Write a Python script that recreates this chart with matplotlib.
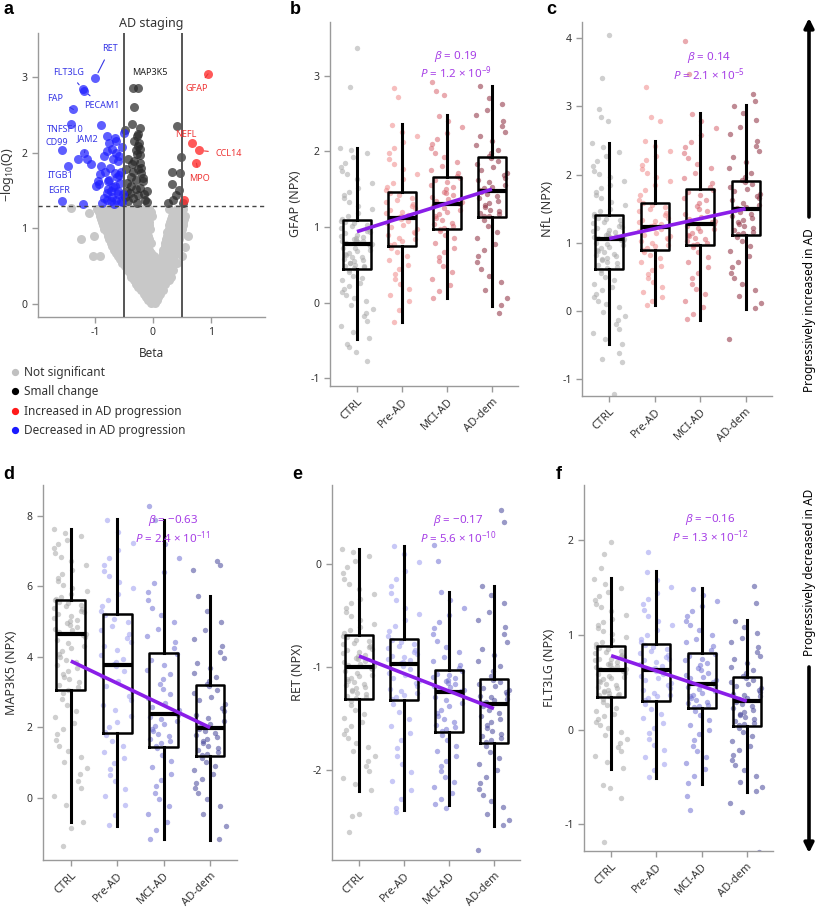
import matplotlib
matplotlib.use("Agg")
import matplotlib.pyplot as plt
import numpy as np
from matplotlib.lines import Line2D
from matplotlib.patches import FancyArrowPatch

plt.rcParams["font.family"] = ["Noto Sans", "DejaVu Sans"]
plt.rcParams["axes.unicode_minus"] = False
plt.rcParams["mathtext.fontset"] = "custom"
plt.rcParams["mathtext.rm"] = "Noto Sans"
plt.rcParams["mathtext.it"] = "Noto Sans:italic"

STAGES = ["CTRL", "Pre-AD", "MCI-AD", "AD-dem"]

# --- Panel a: volcano (beta, -log10 Q) ---------------------------------------
GREY_BETA = [
    -0.97, -0.86, -0.76, -0.66, -0.56, -0.47, -0.37, -0.27, -0.17, -0.07, 0.28, 0.41, 0.52,
    -0.93, -0.82, -0.72, -0.62, -0.52, -0.42, -0.32, -0.22, -0.12, -0.03, 0.36, 0.48,
    -0.92, -0.81, -0.71, -0.61, -0.51, -0.41, -0.31, -0.21, -0.11, -0.02, 0.33, 0.46, 0.56,
    -0.90, -0.79, -0.69, -0.59, -0.49, -0.39, -0.29, -0.19, -0.09, 0.31, 0.44, 0.54,
    -0.88, -0.77, -0.67, -0.57, -0.47, -0.37, -0.27, -0.17, -0.07, 0.30, 0.42, 0.52,
    -0.86, -0.75, -0.65, -0.55, -0.45, -0.35, -0.25, -0.15, -0.06, 0.28, 0.40, 0.51,
    -0.84, -0.74, -0.64, -0.54, -0.44, -0.34, -0.24, -0.14, -0.05, 0.27, 0.38, 0.50,
    -0.80, -0.70, -0.60, -0.50, -0.40, -0.30, -0.20, -0.10, 0.25, 0.37, 0.49,
    -1.01, -0.78, -0.68, -0.58, -0.48, -0.38, -0.28, -0.18, -0.08, 0.24, 0.36, 0.47, 0.60,
    -0.76, -0.66, -0.56, -0.46, -0.36, -0.26, -0.16, -0.06, 0.22, 0.34, 0.45,
    -0.73, -0.63, -0.53, -0.43, -0.33, -0.23, -0.13, -0.04, 0.21, 0.32, 0.44,
    -0.70, -0.60, -0.50, -0.40, -0.30, -0.20, -0.10, 0.20, 0.31, 0.43,
    -0.67, -0.57, -0.47, -0.37, -0.27, -0.17, -0.07, 0.18, 0.29, 0.41,
    -0.63, -0.53, -0.43, -0.33, -0.23, -0.13, -0.04, 0.17, 0.28, 0.39,
    -1.03, -0.92, -0.60, -0.50, -0.40, -0.30, -0.20, -0.10, 0.01, 0.15, 0.26, 0.37, 0.50,
    -0.56, -0.46, -0.36, -0.26, -0.16, -0.06, 0.05, 0.13, 0.23, 0.34,
    -0.53, -0.43, -0.33, -0.23, -0.13, -0.03, 0.08, 0.18, 0.28, 0.42,
    -0.48, -0.38, -0.28, -0.18, -0.08, 0.03, 0.13, 0.23, 0.33,
    -0.45, -0.35, -0.25, -0.15, -0.05, 0.05, 0.15, 0.25, 0.35,
    -0.40, -0.30, -0.20, -0.10, 0.00, 0.10, 0.20, 0.30,
    -0.37, -0.27, -0.17, -0.07, 0.03, 0.13, 0.23, 0.31,
    -0.32, -0.22, -0.12, -0.02, 0.08, 0.18, 0.27,
    -0.29, -0.19, -0.09, 0.01, 0.11, 0.21,
    -0.25, -0.15, -0.05, 0.05, 0.15,
    -0.21, -0.11, -0.01, 0.09, 0.17,
    -0.16, -0.06, 0.04, 0.12,
    -0.12, -0.02, 0.08,
    -0.08, 0.01, 0.07,
    -0.03, 0.04,
    -1.41, -1.24, -1.10, 0.55,
]
GREY_Q = (
    [1.26] * 13 + [1.22] * 12 + [1.17] * 13 + [1.13] * 12 + [1.08] * 12 + [1.04] * 12
    + [0.99] * 12 + [0.95] * 11 + [0.90] * 13 + [0.86] * 11 + [0.81] * 11 + [0.77] * 10
    + [0.72] * 10 + [0.68] * 10 + [0.63] * 13 + [0.59] * 10 + [0.54] * 10 + [0.50] * 9
    + [0.45] * 9 + [0.41] * 8 + [0.36] * 8 + [0.32] * 7 + [0.27] * 6 + [0.23] * 5
    + [0.18] * 5 + [0.14] * 4 + [0.09] * 3 + [0.06] * 3 + [0.02] * 2
    + [1.27, 0.86, 1.20, 0.76]
)

BLUE_BETA = [-0.99, -1.21, -1.19, -1.37, -1.41, -0.89, -1.57, -1.18, -1.29, -1.14,
             -1.47, -1.07, -1.57, -1.20, -0.79, -0.66, -0.63, -0.75, -0.50, -0.80,
             -0.64, -0.69, -0.60, -0.89, -0.74, -0.66, -0.95, -0.93, -0.98, -0.75,
             -0.66, -0.57, -0.79, -0.70, -0.60, -0.80, -0.72, -0.63, -0.55, -0.85,
             -0.58, -0.52, -0.77, -0.55, -0.62, -0.68, -0.72, -0.78, -0.83, -0.58,
             -0.70, -0.53, -0.85, -0.60, -0.67, -0.88, -0.92, -0.54]
BLUE_Q = [2.99, 2.84, 2.82, 2.57, 2.38, 2.37, 2.03, 2.00, 1.91, 1.92,
          1.82, 1.85, 1.36, 1.32, 2.22, 2.19, 2.15, 2.13, 2.26, 2.02,
          2.00, 1.92, 1.89, 1.82, 1.80, 1.73, 1.62, 1.59, 1.56, 1.64,
          1.56, 1.60, 1.47, 1.42, 1.49, 1.38, 1.36, 1.38, 1.36, 1.40,
          1.70, 1.45, 1.52, 1.75, 1.68, 1.55, 1.50, 1.62, 1.75, 1.95,
          2.05, 2.08, 1.95, 1.45, 1.32, 1.33, 1.72, 1.35]

BLACK_BETA = [-0.34, -0.26, -0.32, -0.36, -0.22, -0.48, -0.27, -0.24, -0.26, -0.23,
              -0.43, -0.32, -0.23, -0.46, -0.34, -0.20, -0.29, -0.17, -0.37, -0.23,
              -0.11, -0.34, -0.14, -0.43, -0.26, -0.30, -0.45, -0.20,
              -0.28, -0.25, -0.38, -0.18, -0.30, -0.40, -0.27, -0.15, -0.22, -0.33,
              -0.44, -0.10, -0.48, -0.25, -0.36,
              0.42, 0.49, 0.32, 0.46, 0.33, 0.40, 0.45, 0.26, 0.34, 0.51]
BLACK_Q = [2.86, 2.86, 2.60, 2.38, 2.33, 2.30, 2.22, 2.13, 2.09, 1.97,
           1.91, 1.89, 1.86, 1.78, 1.75, 1.73, 1.64, 1.62, 1.56, 1.53,
           1.49, 1.40, 1.38, 1.36, 1.44, 2.03, 1.50, 1.80,
           1.98, 1.78, 1.68, 1.67, 1.52, 1.47, 1.34, 1.45, 2.05, 2.15,
           1.60, 1.35, 1.42, 2.25, 1.85,
           2.35, 1.94, 1.74, 1.73, 1.58, 1.44, 1.51, 1.33, 1.38, 1.33]

RED_BETA = [0.95, 0.68, 0.79, 0.75, 0.53]
RED_Q = [3.04, 2.13, 2.03, 1.86, 1.38]

LABEL_NAMES = ["RET", "FLT3LG", "PECAM1", "FAP", "TNFSF10", "CD99", "JAM2",
               "ITGB1", "EGFR", "MAP3K5", "GFAP", "NEFL", "CCL14", "MPO"]
LABEL_BETA = [-0.99, -1.21, -1.19, -1.37, -1.41, -1.57, -1.18,
              -1.47, -1.57, -0.30, 0.95, 0.68, 0.79, 0.75]
LABEL_Q = [2.99, 2.84, 2.82, 2.57, 2.38, 2.03, 2.00,
           1.82, 1.36, 2.86, 3.04, 2.13, 2.03, 1.86]

# --- Panels b-f: box statistics, points and trend ---------------------------
GFAP_Q1 = [0.45, 0.75, 0.97, 1.13]
GFAP_MED = [0.78, 1.12, 1.31, 1.48]
GFAP_Q3 = [1.09, 1.46, 1.66, 1.92]
GFAP_LO = [-0.48, -0.26, 0.06, -0.04]
GFAP_HI = [2.05, 2.36, 2.48, 2.87]
GFAP_TREND = [0.94, 1.50]
GFAP_CTRL = [2.04, 2.02, 1.98, 1.92, 1.85, 1.80, 1.74, 1.70, 1.64, 1.58, 1.52, 1.47, 1.42,
             1.38, 1.33, 1.28, 1.24, 1.19, 1.15, 1.11,
             1.08, 1.07, 1.05, 1.03, 1.01, 0.99, 0.97, 0.95, 0.93, 0.92, 0.90, 0.88, 0.87,
             0.85, 0.84, 0.83, 0.82, 0.81, 0.80, 0.79, 0.78,
             0.77, 0.75, 0.73, 0.72, 0.70, 0.68, 0.66, 0.65, 0.63, 0.61, 0.60, 0.58, 0.56,
             0.55, 0.53, 0.52, 0.50, 0.49, 0.48, 0.47, 0.46,
             0.43, 0.40, 0.36, 0.33, 0.30, 0.26, 0.22, 0.18, 0.14, 0.10, 0.06, 0.02, -0.03,
             -0.08, -0.13, -0.18, -0.24, -0.31, -0.39, -0.47,
             3.37, 2.85, -0.55, -0.58, -0.65, -0.77]
GFAP_PRE = [2.35, 2.25, 2.20, 2.12, 2.05, 1.98, 1.90, 1.84, 1.77, 1.70, 1.64, 1.58, 1.53, 1.49,
            1.45, 1.42, 1.39, 1.36, 1.33, 1.31, 1.28, 1.25, 1.22, 1.20, 1.18, 1.16, 1.14, 1.13,
            1.11, 1.08, 1.05, 1.03, 1.00, 0.97, 0.94, 0.92, 0.89, 0.86, 0.84, 0.81, 0.78, 0.76,
            0.72, 0.67, 0.62, 0.56, 0.50, 0.44, 0.38, 0.32, 0.25, 0.18, 0.10, 0.02, -0.10,
            -0.25, 2.84, 2.72]
GFAP_MCI = [2.47, 2.40, 2.32, 2.24, 2.16, 2.10, 2.04, 1.98, 1.92, 1.86, 1.81, 1.76, 1.72, 1.68,
            1.65, 1.62, 1.59, 1.56, 1.53, 1.50, 1.47, 1.45, 1.42, 1.40, 1.37, 1.35, 1.33, 1.32,
            1.30, 1.28, 1.25, 1.23, 1.20, 1.17, 1.15, 1.12, 1.09, 1.06, 1.04, 1.01, 0.99, 0.98,
            0.95, 0.90, 0.85, 0.79, 0.73, 0.67, 0.61, 0.55, 0.48, 0.40, 0.32, 0.24, 0.15, 0.06,
            2.92, 2.80, 2.74]
GFAP_DEM = [2.86, 2.70, 2.62, 2.55, 2.48, 2.40, 2.33, 2.26, 2.20, 2.14, 2.08, 2.02, 1.98, 1.94,
            1.91, 1.87, 1.84, 1.80, 1.76, 1.72, 1.69, 1.65, 1.62, 1.59, 1.56, 1.53, 1.51, 1.49,
            1.47, 1.44, 1.41, 1.38, 1.35, 1.32, 1.29, 1.26, 1.23, 1.21, 1.19, 1.17, 1.15, 1.14,
            1.10, 1.02, 0.94, 0.86, 0.78, 0.70, 0.62, 0.54, 0.45, 0.36, 0.27, 0.17, 0.06, -0.03,
            -0.13]

NFL_Q1 = [0.62, 0.89, 0.96, 1.12]
NFL_MED = [1.05, 1.23, 1.28, 1.49]
NFL_Q3 = [1.40, 1.59, 1.79, 1.90]
NFL_LO = [-0.49, 0.08, -0.13, 0.03]
NFL_HI = [2.47, 2.50, 2.90, 3.02]
NFL_TREND = [1.06, 1.50]
NFL_CTRL = [2.46, 2.40, 2.33, 2.27, 2.20, 2.13, 2.06, 2.01, 1.96, 1.90, 1.85, 1.80, 1.75,
            1.70, 1.65, 1.60, 1.55, 1.50, 1.46, 1.42,
            1.39, 1.37, 1.35, 1.33, 1.31, 1.29, 1.27, 1.25, 1.23, 1.21, 1.19, 1.17, 1.16,
            1.14, 1.12, 1.11, 1.10, 1.09, 1.08, 1.07, 1.06,
            1.04, 1.02, 1.00, 0.98, 0.96, 0.94, 0.92, 0.90, 0.88, 0.86, 0.84, 0.82, 0.80,
            0.78, 0.76, 0.74, 0.72, 0.70, 0.67, 0.65, 0.63,
            0.60, 0.55, 0.50, 0.45, 0.40, 0.35, 0.30, 0.25, 0.20, 0.15, 0.10, 0.05, -0.01,
            -0.07, -0.13, -0.19, -0.26, -0.33, -0.41, -0.48,
            4.05, 3.42, 2.96, 2.85, 2.78, -0.62, -0.70, -0.75, -1.22]
NFL_PRE = [2.49, 2.42, 2.35, 2.28, 2.21, 2.14, 2.08, 2.02, 1.96, 1.90, 1.84, 1.77, 1.70, 1.63,
           1.58, 1.55, 1.52, 1.49, 1.46, 1.43, 1.40, 1.37, 1.34, 1.32, 1.30, 1.28, 1.26, 1.24,
           1.22, 1.20, 1.17, 1.15, 1.12, 1.10, 1.07, 1.05, 1.02, 1.00, 0.97, 0.95, 0.92, 0.90,
           0.87, 0.82, 0.77, 0.72, 0.66, 0.60, 0.54, 0.48, 0.42, 0.35, 0.28, 0.21, 0.14, 0.08,
           3.28, 2.84, 2.78]
NFL_MCI = [2.89, 2.78, 2.68, 2.58, 2.48, 2.40, 2.32, 2.24, 2.16, 2.09, 2.02, 1.95, 1.88, 1.82,
           1.78, 1.74, 1.70, 1.66, 1.62, 1.58, 1.54, 1.50, 1.46, 1.42, 1.38, 1.35, 1.32, 1.30,
           1.27, 1.25, 1.22, 1.20, 1.17, 1.15, 1.12, 1.10, 1.07, 1.05, 1.02, 1.00, 0.98, 0.97,
           0.93, 0.86, 0.79, 0.72, 0.64, 0.56, 0.48, 0.40, 0.32, 0.24, 0.15, 0.06, -0.04, -0.12,
           3.96, 3.48]
NFL_DEM = [3.01, 2.90, 2.80, 2.70, 2.60, 2.50, 2.42, 2.34, 2.26, 2.18, 2.10, 2.03, 1.97, 1.92,
           1.89, 1.86, 1.82, 1.79, 1.76, 1.72, 1.69, 1.66, 1.62, 1.59, 1.56, 1.53, 1.51, 1.50,
           1.48, 1.45, 1.42, 1.39, 1.36, 1.33, 1.30, 1.27, 1.24, 1.21, 1.18, 1.16, 1.14, 1.13,
           1.09, 1.02, 0.95, 0.88, 0.80, 0.72, 0.64, 0.56, 0.48, 0.40, 0.31, 0.22, 0.12, 0.04,
           3.18, 3.08, -0.42]

MAP_Q1 = [3.06, 1.83, 1.45, 1.18]
MAP_MED = [4.65, 3.77, 2.38, 1.98]
MAP_Q3 = [5.61, 5.22, 4.12, 3.20]
MAP_LO = [-0.70, -0.80, -1.18, -1.20]
MAP_HI = [7.63, 7.91, 7.89, 5.73]
MAP_TREND = [3.88, 1.99]
MAP_CTRL = [7.62, 7.52, 7.42, 7.32, 7.20, 7.08, 6.96, 6.84, 6.72, 6.60, 6.48, 6.36, 6.25,
            6.14, 6.04, 5.95, 5.86, 5.78, 5.71, 5.65,
            5.60, 5.56, 5.52, 5.48, 5.44, 5.40, 5.35, 5.30, 5.26, 5.21, 5.16, 5.11, 5.06,
            5.01, 4.96, 4.90, 4.85, 4.80, 4.75, 4.70, 4.66,
            4.63, 4.56, 4.48, 4.40, 4.32, 4.24, 4.16, 4.08, 4.00, 3.92, 3.84, 3.76, 3.68,
            3.60, 3.52, 3.44, 3.36, 3.28, 3.20, 3.13, 3.07,
            2.98, 2.80, 2.62, 2.45, 2.28, 2.12, 1.96, 1.80, 1.64, 1.48, 1.32, 1.16, 1.00,
            0.84, 0.66, 0.48, 0.28, 0.06, -0.22, -0.68,
            -0.87, -1.38]
MAP_PRE = [7.90, 7.55, 7.22, 7.02, 6.82, 6.62, 6.45, 6.30, 6.12, 5.95, 5.78, 5.60, 5.45, 5.30,
           5.18, 5.08, 4.98, 4.88, 4.76, 4.65, 4.54, 4.42, 4.30, 4.18, 4.06, 3.95, 3.86, 3.79,
           3.74, 3.60, 3.46, 3.32, 3.18, 3.04, 2.90, 2.76, 2.62, 2.48, 2.32, 2.16, 2.00, 1.86,
           1.78, 1.62, 1.46, 1.30, 1.14, 0.98, 0.82, 0.64, 0.46, 0.26, 0.04, -0.22, -0.50,
           -0.78]
MAP_MCI = [7.88, 7.20, 6.80, 6.40, 6.10, 5.85, 5.60, 5.40, 5.20, 5.00, 4.80, 4.60, 4.42, 4.25,
           4.08, 3.92, 3.78, 3.64, 3.50, 3.36, 3.22, 3.08, 2.95, 2.82, 2.70, 2.58, 2.48, 2.40,
           2.36, 2.30, 2.24, 2.17, 2.10, 2.03, 1.96, 1.89, 1.82, 1.75, 1.68, 1.61, 1.54, 1.47,
           1.40, 1.22, 1.04, 0.86, 0.68, 0.50, 0.32, 0.14, -0.04, -0.24, -0.46, -0.68, -0.92,
           -1.17, 8.28]
MAP_DEM = [5.72, 5.30, 5.00, 4.75, 4.52, 4.32, 4.15, 3.98, 3.82, 3.68, 3.55, 3.42, 3.32, 3.24,
           3.16, 3.06, 2.96, 2.86, 2.76, 2.66, 2.56, 2.46, 2.36, 2.26, 2.18, 2.10, 2.04, 2.00,
           1.96, 1.90, 1.84, 1.78, 1.72, 1.66, 1.60, 1.54, 1.48, 1.42, 1.36, 1.30, 1.24, 1.20,
           1.14, 1.02, 0.90, 0.78, 0.66, 0.54, 0.42, 0.28, 0.12, -0.04, -0.24, -0.46, -0.80,
           -1.18, 6.72, 6.60, 6.48]

RET_Q1 = [-1.31, -1.32, -1.63, -1.73]
RET_MED = [-1.00, -0.97, -1.24, -1.36]
RET_Q3 = [-0.69, -0.72, -1.03, -1.11]
RET_LO = [-2.20, -2.38, -2.34, -2.54]
RET_HI = [0.15, 0.18, -0.27, -0.21]
RET_TREND = [-0.89, -1.40]
RET_CTRL = [0.15, 0.12, 0.08, 0.03, -0.03, -0.08, -0.14, -0.19, -0.24, -0.29, -0.34, -0.38,
            -0.42, -0.46, -0.50, -0.54, -0.58, -0.61, -0.64, -0.67,
            -0.70, -0.71, -0.73, -0.74, -0.76, -0.77, -0.79, -0.80, -0.82, -0.83, -0.85,
            -0.86, -0.88, -0.89, -0.91, -0.92, -0.94, -0.95, -0.97, -0.98, -0.99,
            -1.01, -1.02, -1.04, -1.05, -1.07, -1.08, -1.10, -1.11, -1.13, -1.14, -1.16,
            -1.17, -1.19, -1.20, -1.22, -1.23, -1.25, -1.26, -1.28, -1.29, -1.30,
            -1.33, -1.37, -1.41, -1.45, -1.49, -1.53, -1.57, -1.61, -1.65, -1.69, -1.73,
            -1.77, -1.81, -1.86, -1.91, -1.96, -2.01, -2.07, -2.13, -2.19,
            -2.42, -2.44, -2.60]
RET_PRE = [0.18, 0.10, 0.02, -0.06, -0.14, -0.21, -0.28, -0.35, -0.42, -0.48, -0.54, -0.60,
           -0.65, -0.70, -0.73, -0.75, -0.77, -0.79, -0.81, -0.83, -0.85, -0.87, -0.89, -0.90,
           -0.92, -0.93, -0.95, -0.96, -0.99, -1.02, -1.05, -1.07, -1.10, -1.13, -1.15, -1.18,
           -1.21, -1.23, -1.25, -1.27, -1.29, -1.31, -1.36, -1.43, -1.50, -1.57, -1.64, -1.71,
           -1.78, -1.86, -1.94, -2.02, -2.10, -2.19, -2.28, -2.37, -2.40]
RET_MCI = [-0.27, -0.35, -0.42, -0.49, -0.56, -0.62, -0.68, -0.74, -0.80, -0.85, -0.90,
           -0.94, -0.98, -1.01, -1.04, -1.06, -1.07, -1.09, -1.10, -1.12, -1.13, -1.15, -1.16,
           -1.18, -1.19, -1.21, -1.22, -1.23, -1.26, -1.29, -1.32, -1.35, -1.38, -1.41, -1.44,
           -1.47, -1.50, -1.53, -1.56, -1.58, -1.60, -1.62, -1.66, -1.71, -1.76, -1.81, -1.86,
           -1.91, -1.96, -2.01, -2.06, -2.11, -2.16, -2.22, -2.28, -2.33, 0.19, 0.03, -2.37]
RET_DEM = [-0.21, -0.30, -0.38, -0.46, -0.54, -0.61, -0.68, -0.75, -0.82, -0.88, -0.94,
           -0.99, -1.04, -1.08, -1.12, -1.14, -1.16, -1.18, -1.20, -1.22, -1.24, -1.26, -1.28,
           -1.29, -1.31, -1.32, -1.34, -1.35, -1.38, -1.41, -1.44, -1.47, -1.50, -1.53, -1.56,
           -1.59, -1.62, -1.65, -1.67, -1.69, -1.71, -1.72, -1.76, -1.82, -1.88, -1.94, -2.00,
           -2.06, -2.12, -2.18, -2.24, -2.30, -2.36, -2.42, -2.48, -2.53, 0.53, 0.41, -2.77]

FLT_Q1 = [0.34, 0.30, 0.23, 0.04]
FLT_MED = [0.63, 0.63, 0.48, 0.30]
FLT_Q3 = [0.88, 0.90, 0.81, 0.55]
FLT_LO = [-0.41, -0.51, -0.57, -0.66]
FLT_HI = [1.60, 1.67, 1.49, 1.16]
FLT_TREND = [0.78, 0.30]
FLT_CTRL = [1.59, 1.54, 1.49, 1.45, 1.41, 1.37, 1.33, 1.29, 1.25, 1.21, 1.17, 1.13, 1.10,
            1.07, 1.04, 1.01, 0.98, 0.95, 0.92, 0.90,
            0.87, 0.86, 0.85, 0.83, 0.82, 0.81, 0.79, 0.78, 0.77, 0.75, 0.74, 0.73, 0.71,
            0.70, 0.69, 0.68, 0.67, 0.66, 0.65, 0.64, 0.64,
            0.62, 0.60, 0.59, 0.57, 0.56, 0.54, 0.53, 0.51, 0.50, 0.48, 0.47, 0.45, 0.44,
            0.42, 0.41, 0.40, 0.39, 0.38, 0.37, 0.36, 0.35,
            0.32, 0.29, 0.26, 0.23, 0.20, 0.17, 0.14, 0.11, 0.08, 0.05, 0.02, -0.02, -0.06,
            -0.10, -0.14, -0.18, -0.23, -0.28, -0.34, -0.40,
            1.98, 1.85, 1.70, -0.58, -0.62, -0.72, -1.18, -1.38]
FLT_PRE = [1.66, 1.58, 1.50, 1.44, 1.38, 1.32, 1.26, 1.20, 1.15, 1.10, 1.05, 1.00, 0.96, 0.92,
           0.89, 0.87, 0.85, 0.83, 0.81, 0.79, 0.77, 0.75, 0.73, 0.71, 0.69, 0.67, 0.65, 0.64,
           0.62, 0.59, 0.57, 0.54, 0.52, 0.49, 0.47, 0.44, 0.42, 0.39, 0.37, 0.35, 0.33, 0.31,
           0.27, 0.22, 0.17, 0.12, 0.07, 0.02, -0.04, -0.10, -0.16, -0.22, -0.29, -0.36, -0.43,
           -0.50, 1.87]
FLT_MCI = [1.48, 1.42, 1.36, 1.30, 1.25, 1.20, 1.15, 1.10, 1.05, 1.00, 0.96, 0.92, 0.88, 0.84,
           0.80, 0.78, 0.75, 0.73, 0.70, 0.68, 0.65, 0.63, 0.60, 0.58, 0.56, 0.54, 0.52, 0.50,
           0.47, 0.45, 0.43, 0.41, 0.39, 0.37, 0.35, 0.33, 0.31, 0.29, 0.28, 0.26, 0.25, 0.24,
           0.20, 0.15, 0.10, 0.05, 0.00, -0.05, -0.11, -0.17, -0.23, -0.29, -0.35, -0.42, -0.49,
           -0.56, -0.70, -0.85]
FLT_DEM = [1.15, 1.08, 1.02, 0.97, 0.92, 0.87, 0.82, 0.78, 0.74, 0.70, 0.66, 0.63, 0.60, 0.57,
           0.54, 0.52, 0.50, 0.48, 0.46, 0.44, 0.42, 0.40, 0.38, 0.36, 0.35, 0.33, 0.32, 0.31,
           0.29, 0.27, 0.25, 0.23, 0.21, 0.19, 0.17, 0.15, 0.13, 0.11, 0.09, 0.07, 0.06, 0.05,
           0.02, -0.02, -0.07, -0.12, -0.17, -0.22, -0.27, -0.32, -0.37, -0.43, -0.49, -0.55,
           -0.60, -0.65, 1.52, 1.34, -0.77, -0.87, -1.29]

# --- Style -------------------------------------------------------------------
SPINE = "#9a9a9a"
TXT = "#333333"
PURPLE = "#8a1ee8"
STAT_TXT = "#a63ee6"
UP_COLORS = ["#a8a8a8", "#f08a8a", "#d8646e", "#8c2a3c"]
DOWN_COLORS = ["#a8a8a8", "#9c9cf0", "#6f6fd2", "#45459a"]


def style_axes(ax):
    for side in ("top", "right"):
        ax.spines[side].set_visible(False)
    for side in ("left", "bottom"):
        ax.spines[side].set_color(SPINE)
        ax.spines[side].set_linewidth(1.0)
    ax.tick_params(color=SPINE, labelcolor=TXT, labelsize=7.5, length=4, width=1)


def volcano(ax):
    style_axes(ax)
    ax.scatter(GREY_BETA, GREY_Q, s=42, color="#c8c8c8", lw=0, zorder=1)
    ax.scatter(BLACK_BETA, BLACK_Q, s=42, color="#2a2a2a", alpha=0.72, lw=0, zorder=2)
    ax.scatter(BLUE_BETA, BLUE_Q, s=42, color="#2020ff", alpha=0.72, lw=0, zorder=2)
    ax.scatter(RED_BETA, RED_Q, s=42, color="#ff3030", alpha=0.8, lw=0, zorder=2)
    ax.axvline(-0.5, color="#555555", lw=1.4, zorder=3)
    ax.axvline(0.5, color="#555555", lw=1.4, zorder=3)
    ax.axhline(1.3, color="#444444", lw=1.0, ls=(0, (3, 2.5)), zorder=3)
    ax.set_xlim(-1.98, 1.93)
    ax.set_ylim(-0.17, 3.58)
    ax.set_xticks([-1, 0, 1])
    ax.set_yticks([0, 1, 2, 3])
    ax.set_xlabel("Beta", fontsize=8.5, color=TXT, labelpad=6)
    ax.set_ylabel(r"$-$log$_{10}$(Q)", fontsize=9, color=TXT, labelpad=4)
    ax.set_title("AD staging", fontsize=9, color=TXT, pad=4)

    # label text positions (data coords) and whether a leader line is drawn
    text_pos = {"RET": (-0.74, 3.37, True), "FLT3LG": (-1.45, 3.06, True),
                "PECAM1": (-0.88, 2.62, True), "FAP": (-1.68, 2.71, True),
                "TNFSF10": (-1.51, 2.30, False), "CD99": (-1.65, 2.14, False),
                "JAM2": (-1.13, 2.18, True), "ITGB1": (-1.59, 1.70, False),
                "EGFR": (-1.62, 1.50, False), "MAP3K5": (-0.06, 3.06, False),
                "GFAP": (0.76, 2.85, True), "NEFL": (0.56, 2.24, False),
                "CCL14": (1.30, 1.99, True), "MPO": (0.80, 1.66, True)}
    for name, bx, qy in zip(LABEL_NAMES, LABEL_BETA, LABEL_Q):
        tx, ty, line = text_pos[name]
        if bx > 0.5:
            c = "#ee3535"
        elif bx < -0.5:
            c = "#3636e6"
        else:
            c = "#222222"
        props = dict(arrowstyle="-", color=c, lw=0.8, shrinkA=3, shrinkB=4) if line else None
        ax.annotate(name, xy=(bx, qy), xytext=(tx, ty), color=c, fontsize=6.5,
                    ha="center", va="center", arrowprops=props, zorder=5)


def stage_panel(ax, groups, q1, med, q3, lo, hi, trend, colors, ylim, yticks,
                ylabel, beta_txt, p_txt):
    style_axes(ax)
    pos = np.arange(len(STAGES))
    for i, vals in enumerate(groups):
        k = np.arange(len(vals)) + 7 * i
        # deterministic strip jitter (layout only, not data)
        frac = (k * 0.7548777 + k * k * 0.5698403) % 1.0
        off = (frac - 0.5) * 0.74
        ax.scatter(pos[i] + off, vals, s=15, color=colors[i], alpha=0.55, lw=0, zorder=1)
    stats = [dict(q1=q1[i], med=med[i], q3=q3[i], whislo=lo[i], whishi=hi[i], fliers=[])
             for i in range(len(STAGES))]
    ax.bxp(stats, positions=pos, widths=0.62, showcaps=False, showfliers=False,
           boxprops=dict(color="black", lw=1.8), medianprops=dict(color="black", lw=3.0),
           whiskerprops=dict(color="black", lw=2.2), zorder=3)
    ax.plot([pos[0], pos[-1]], trend, color=PURPLE, lw=2.6, zorder=4, solid_capstyle="butt")
    ax.set_xlim(-0.6, 3.58)
    ax.set_ylim(*ylim)
    ax.set_yticks(yticks)
    ax.set_xticks(pos)
    ax.set_xticklabels(STAGES, rotation=45, ha="right", rotation_mode="anchor", fontsize=8)
    ax.set_ylabel(ylabel, fontsize=9, color=TXT, labelpad=6)
    ax.text(0.67, 0.905, beta_txt, transform=ax.transAxes, ha="center", va="center",
            fontsize=8.3, color=STAT_TXT, zorder=6)
    ax.text(0.67, 0.86, p_txt, transform=ax.transAxes, ha="center", va="center",
            fontsize=8.3, color=STAT_TXT, zorder=6)


def main():
    W, H = 818, 910
    fig = plt.figure(figsize=(W / 100, H / 100), dpi=100)

    def rect(left, top, right, bottom):
        return [left / W, 1 - bottom / H, (right - left) / W, (bottom - top) / H]

    ax_a = fig.add_axes(rect(38, 33, 265, 317))
    volcano(ax_a)

    labels = ["Not significant", "Small change", "Increased in AD progression",
              "Decreased in AD progression"]
    lcolors = ["#c0c0c0", "#000000", "#ff1a1a", "#1a1aff"]
    handles = [Line2D([], [], marker="o", ls="", color=c, markersize=4.2) for c in lcolors]
    fig.legend(handles, labels, loc="upper left", bbox_to_anchor=(10 / W, 1 - 366 / H),
               frameon=False, fontsize=8.5, handletextpad=0.3, labelspacing=0.55,
               handlelength=0.9, borderpad=0, borderaxespad=0, labelcolor=TXT)

    ax_b = fig.add_axes(rect(330, 22, 518, 386))
    stage_panel(ax_b, [GFAP_CTRL, GFAP_PRE, GFAP_MCI, GFAP_DEM], GFAP_Q1, GFAP_MED,
                GFAP_Q3, GFAP_LO, GFAP_HI, GFAP_TREND, UP_COLORS, (-1.10, 3.71),
                [-1, 0, 1, 2, 3], "GFAP (NPX)", r"$\beta$ = 0.19",
                r"$\mathit{P}$ = 1.2 × 10$^{-9}$")

    ax_c = fig.add_axes(rect(582, 22, 772, 396))
    stage_panel(ax_c, [NFL_CTRL, NFL_PRE, NFL_MCI, NFL_DEM], NFL_Q1, NFL_MED,
                NFL_Q3, NFL_LO, NFL_HI, NFL_TREND, UP_COLORS, (-1.25, 4.24),
                [-1, 0, 1, 2, 3, 4], "NfL (NPX)", r"$\beta$ = 0.14",
                r"$\mathit{P}$ = 2.1 × 10$^{-5}$")

    ax_d = fig.add_axes(rect(43, 485, 237, 860))
    stage_panel(ax_d, [MAP_CTRL, MAP_PRE, MAP_MCI, MAP_DEM], MAP_Q1, MAP_MED,
                MAP_Q3, MAP_LO, MAP_HI, MAP_TREND, DOWN_COLORS, (-1.77, 8.88),
                [0, 2, 4, 6, 8], "MAP3K5 (NPX)", r"$\beta$ = −0.63",
                r"$\mathit{P}$ = 2.4 × 10$^{-11}$")

    ax_e = fig.add_axes(rect(332, 485, 520, 860))
    stage_panel(ax_e, [RET_CTRL, RET_PRE, RET_MCI, RET_DEM], RET_Q1, RET_MED,
                RET_Q3, RET_LO, RET_HI, RET_TREND, DOWN_COLORS, (-2.87, 0.77),
                [-2, -1, 0], "RET (NPX)", r"$\beta$ = −0.17",
                r"$\mathit{P}$ = 5.6 × 10$^{-10}$")

    ax_f = fig.add_axes(rect(584, 485, 773, 851))
    stage_panel(ax_f, [FLT_CTRL, FLT_PRE, FLT_MCI, FLT_DEM], FLT_Q1, FLT_MED,
                FLT_Q3, FLT_LO, FLT_HI, FLT_TREND, DOWN_COLORS, (-1.28, 2.58),
                [-1, 0, 1, 2], "FLT3LG (NPX)", r"$\beta$ = −0.16",
                r"$\mathit{P}$ = 1.3 × 10$^{-12}$")

    # panel letters
    for letter, x, y in [("a", 3, 10), ("b", 290, 9), ("c", 546, 9),
                         ("d", 3, 474), ("e", 292, 474), ("f", 556, 474)]:
        fig.text(x / W, 1 - y / H, letter, fontsize=13, fontweight="bold",
                 family="Liberation Sans", ha="left", va="center", color="black")

    # right-hand direction arrows
    ax_x = 809 / W
    fig.text(ax_x, 1 - 310 / H, "Progressively increased in AD", rotation=90,
             ha="center", va="center", fontsize=8.5, color="black")
    fig.text(ax_x, 1 - 572 / H, "Progressively decreased in AD", rotation=90,
             ha="center", va="center", fontsize=8.5, color="black")
    arrow = dict(arrowstyle="-|>", color="black", lw=2.6, mutation_scale=14,
                 shrinkA=0, shrinkB=0)
    fig.add_artist(FancyArrowPatch((ax_x, 1 - 217 / H), (ax_x, 1 - 18 / H),
                                   transform=fig.transFigure, **arrow))
    fig.add_artist(FancyArrowPatch((ax_x, 1 - 667 / H), (ax_x, 1 - 853 / H),
                                   transform=fig.transFigure, **arrow))

    fig.savefig("out.png", dpi=100)


if __name__ == "__main__":
    main()
